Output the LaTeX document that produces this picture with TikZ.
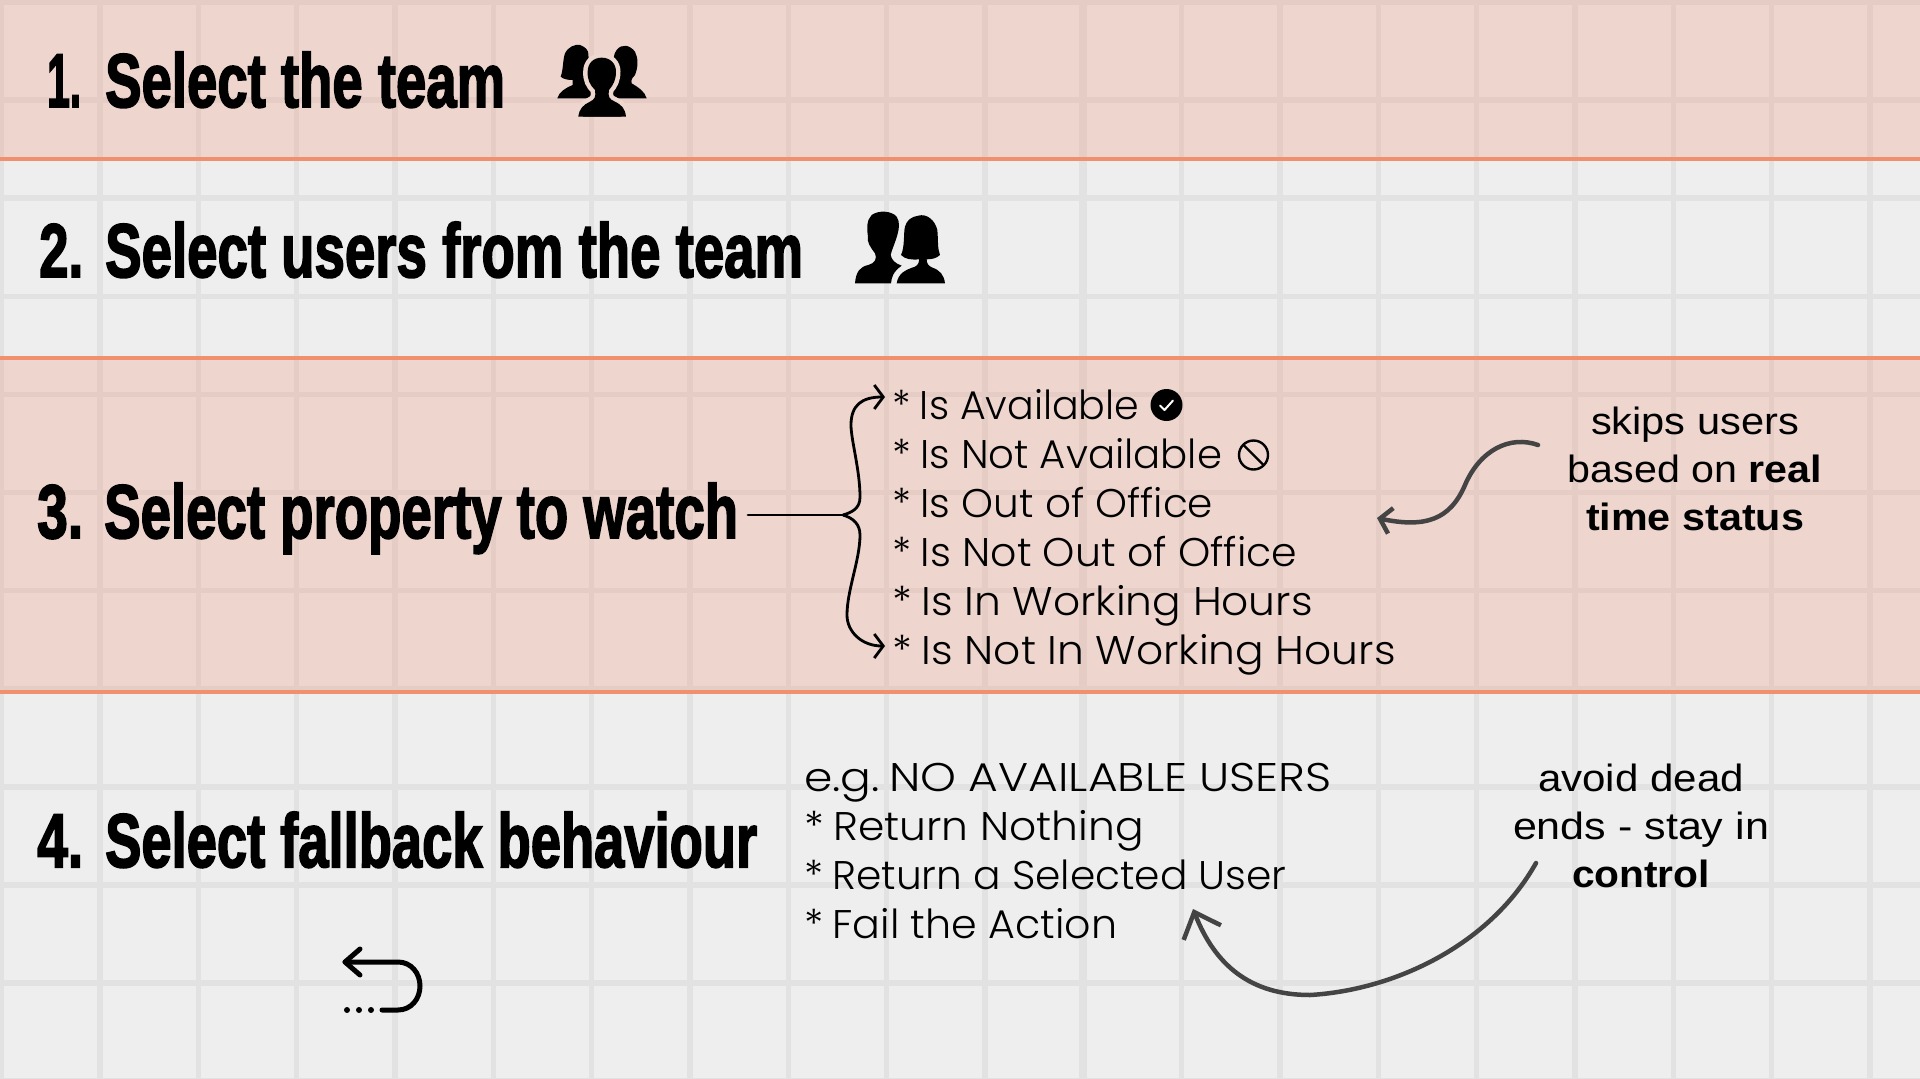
\documentclass[tikz,border=0pt]{standalone}
\usepackage{fontspec}
\usepackage{graphicx}
\usetikzlibrary{arrows.meta}
\newfontfamily\ttlfont[FakeBold=2.6]{Liberation Sans Bold}
\newfontfamily\listfont{Poppins Light}
\newfontfamily\sidefont[BoldFont={Liberation Sans Bold}]{Liberation Sans}
\newcommand{\fw}[2]{\resizebox{#1pt}{\height}{#2}}
\newcommand{\ttl}[5]{\fw{#1}{#2}\hspace*{#3pt}\fw{#4}{#5}}
\newcommand{\st}{*\hspace{.22em}}
\definecolor{bggrey}{HTML}{EEEEEE}
\definecolor{gridgrey}{HTML}{E2E2E2}
\definecolor{bandorange}{HTML}{F0906F}
\definecolor{noteink}{HTML}{444444}
\tikzset{
  gridline/.style={gridgrey,line width=5.5pt},
  band/.style={fill=bandorange,fill opacity=.25,draw=none},
  rule/.style={bandorange,line width=3.5pt},
  title/.style={anchor=base west,inner sep=0pt,font={\ttlfont\fontsize{76}{76}\selectfont}},
  listing/.style={anchor=base west,inner sep=0pt,align=left,font={\listfont\fontsize{40}{49}\selectfont}},
  note/.style={anchor=base,inner sep=0pt,align=center,font={\sidefont\fontsize{38}{48}\selectfont}},
  brace/.style={black,line width=2.8pt,line cap=round},
  notearrow/.style={noteink,line width=4.5pt,line cap=round},
}
\begin{document}
\begin{tikzpicture}[x=1pt,y=-1pt]
\useasboundingbox (0,0) rectangle (1920,1079);
\fill[bggrey] (0,0) rectangle (1920,1079);
\foreach \k in {0,...,19} {
  \draw[gridline] ({1.67+98.33*\k},0) -- ({1.67+98.33*\k},1079);
  \draw[gridline] (0,{2+98.1*\k}) -- (1920,{2+98.1*\k});
}
\draw[gridgrey,line width=8pt] (1083.3,0) -- (1083.3,1079);
\fill[band] (0,0) rectangle (1920,159);
\fill[band] (0,358) rectangle (1920,692);
\draw[rule] (0,159) -- (1920,159);
\draw[rule] (0,358) -- (1920,358);
\draw[rule] (0,692) -- (1920,692);

\node[title] (t1) at (47,107) {\ttl{34}{1.}{24}{400}{Select the team}};
\node[title] (t2) at (39,277) {\ttl{44}{2.}{22}{698}{Select users from the team}};
\node[title] (t3) at (37,538) {\ttl{46}{3.}{21}{634}{Select property to watch}};
\node[title] (t4) at (37,867) {\ttl{46}{4.}{22}{652}{Select fallback behaviour}};

\node[listing] (props) at (892.5,664) {\fw{246.5}{\st Is Available}\\ \fw{329.5}{\st Is Not Available}\\ \fw{320.5}{\st Is Out of Office}\\ \fw{404.5}{\st Is Not Out of Office}\\ \fw{420}{\st Is In Working Hours}\\ \fw{503}{\st Is Not In Working Hours}};
\node[listing] (falls) at (804,938) {\fw{527.5}{{\spaceskip=.2em\relax\xspaceskip=.2em\relax e.g. }NO AVAILABLE USERS}\\ \fw{339.5}{\st Return Nothing}\\ \fw{482.5}{\st Return a Selected User}\\ \fw{313}{\st Fail the Action}};
\node[note] (n1) at (1695,530) {\fw{208}{skips users}\\ \fw{254.5}{based on \textbf{real}}\\ \fw{218}{\textbf{time status}}};
\node[note] (n2) at (1641,887) {\fw{206}{avoid dead}\\ \fw{256}{ends - stay in}\\ \fw{138}{\textbf{control}}};

% brace
\coordinate (bs) at (748,515);
\coordinate (bj) at (843,515);
\coordinate (bt) at (885,397);
\coordinate (bb) at (885,646);
\draw[brace] (bs) -- (bj);
\draw[brace,-{Straight Barb[length=9pt,width=24pt,line width=2.8pt]}] (bj) .. controls (853,512) and (860,508) .. (860,497) .. controls (860,470) and (851,440) .. (851,425) .. controls (851,405) and (862,397) .. (bt);
\draw[brace,-{Straight Barb[length=9pt,width=24pt,line width=2.8pt]}] (bj) .. controls (853,518) and (860,524) .. (860,535) .. controls (860,560) and (847,590) .. (847,615) .. controls (847,632) and (862,646) .. (bb);

% note arrows
\coordinate (a1s) at (1538,445);
\coordinate (a1e) at (1377,518);
\draw[notearrow,-{Straight Barb[length=11pt,width=26pt,line width=4.5pt]}] (a1s) .. controls (1510,435) and (1480,450) .. (1465,485) .. controls (1450,520) and (1425,528) .. (a1e);
\coordinate (a2s) at (1536,863);
\coordinate (a2e) at (1193,909);
\draw[notearrow,-{Straight Barb[length=22pt,width=40pt,line width=4.5pt]}] (a2s) .. controls (1490,945) and (1395,990) .. (1310,995) .. controls (1250,995) and (1215,965) .. (a2e);

% status icons
\fill[black] (1166.5,405) circle[radius=16pt];
\draw[white,line width=2pt,line cap=round,line join=round] (1160,405.5) -- (1164.5,410) -- (1173,400.5);
\draw[black,line width=2.4pt] (1253.5,455) circle[radius=14.5pt];
\draw[black,line width=2.4pt] (1243.5,445) -- (1263.5,465);

% undo icon
\draw[black,line width=5pt,line cap=round,line join=round] (360,949) -- (345,962) -- (360,975);
\draw[black,line width=5pt,line cap=round] (345,962) -- (398,962) .. controls (411,962) and (420,973) .. (420,986) .. controls (420,999) and (411,1010) .. (398,1010) -- (382,1010);
\foreach \dx in {347,359,371} \fill[black] (\dx,1010) circle[radius=3pt];

% team icon
\begin{scope}[shift={(540,30)},x=0.3333pt,y=-0.3333pt]
\fill[black] (52,205) .. controls (58,185) and (75,175) .. (98,165) -- (98,150) .. controls (85,150) and (70,148) .. (62,140) .. controls (70,120) and (68,90) .. (75,70) .. controls (85,50) and (105,42) .. (120,45) .. controls (135,50) and (148,62) .. (145,75) -- (160,205) -- cycle;
\fill[black] (320,205) .. controls (315,185) and (295,172) .. (275,160) .. controls (272,150) and (278,140) .. (285,135) .. controls (295,110) and (295,85) .. (285,65) .. controls (270,45) and (245,40) .. (230,60) .. controls (220,72) and (220,90) .. (222,100) -- (215,205) -- cycle;
\filldraw[black,draw=bandorange!25!bggrey,line width=9pt] (115,260) .. controls (118,235) and (130,225) .. (150,215) .. controls (165,208) and (168,200) .. (165,180) .. controls (150,165) and (142,150) .. (143,125) .. controls (143,100) and (160,83) .. (185,83) .. controls (210,83) and (228,100) .. (228,125) .. controls (228,150) and (220,165) .. (207,180) .. controls (203,200) and (208,208) .. (225,215) .. controls (245,225) and (255,235) .. (258,260);
\fill[black] (115,260) .. controls (118,235) and (130,225) .. (150,215) .. controls (165,208) and (168,200) .. (165,180) .. controls (150,165) and (142,150) .. (143,125) .. controls (143,100) and (160,83) .. (185,83) .. controls (210,83) and (228,100) .. (228,125) .. controls (228,150) and (220,165) .. (207,180) .. controls (203,200) and (208,208) .. (225,215) .. controls (245,225) and (255,235) .. (258,260) -- cycle;
\end{scope}

% pair icon
\begin{scope}[shift={(840,200)},x=0.3333pt,y=-0.3333pt]
\fill[black] (45,250) .. controls (48,215) and (60,200) .. (85,195) .. controls (105,190) and (112,175) .. (105,160) .. controls (90,140) and (80,125) .. (84,110) .. controls (80,85) and (80,60) .. (95,45) .. controls (115,30) and (155,32) .. (170,50) .. controls (180,65) and (178,85) .. (172,105) .. controls (165,130) and (155,150) .. (152,165) .. controls (155,180) and (165,190) .. (185,197) .. controls (160,215) and (155,230) .. (153,250) -- cycle;
\fill[black] (170,250) .. controls (175,220) and (195,210) .. (225,200) .. controls (235,195) and (238,185) .. (238,178) .. controls (215,180) and (195,178) .. (183,165) .. controls (195,140) and (190,100) .. (195,80) .. controls (200,60) and (215,50) .. (235,47) .. controls (260,40) and (285,60) .. (292,90) .. controls (295,120) and (292,145) .. (300,165) .. controls (290,175) and (275,178) .. (260,178) .. controls (260,190) and (265,197) .. (275,202) .. controls (300,210) and (312,225) .. (315,250) -- cycle;
\end{scope}
\end{tikzpicture}
\end{document}
